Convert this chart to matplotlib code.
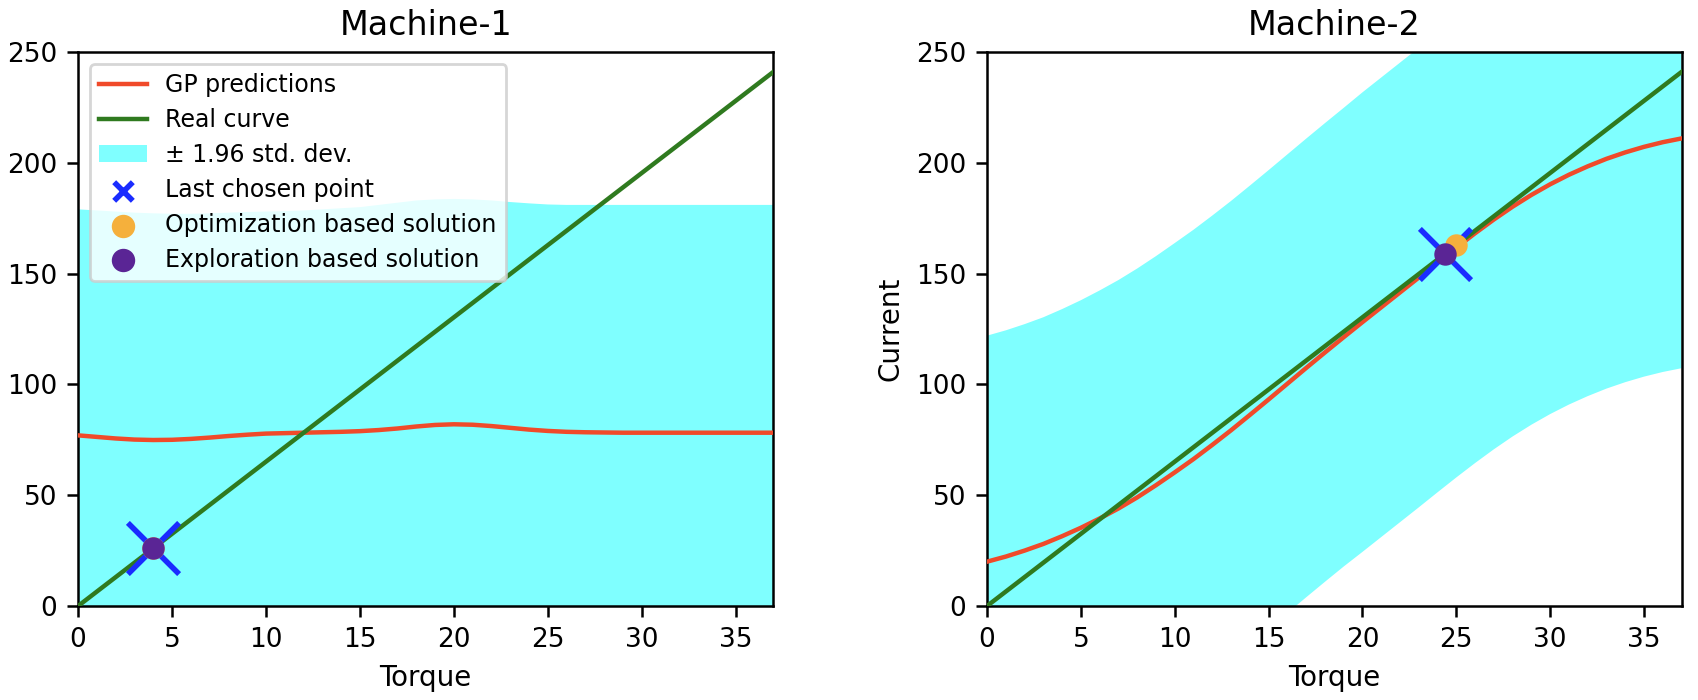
import numpy as np
import matplotlib
matplotlib.use("Agg")
import matplotlib.pyplot as plt

# ---------------- data ----------------
torque = list(range(0, 38))

# Machine-1 (one per torque unit)
m1_gp = [77, 76.3, 75.6, 75.1, 74.9, 75, 75.4, 76, 76.7, 77.3, 77.8, 78, 78.2, 78.4,
         78.6, 78.9, 79.4, 80.1, 81, 81.7, 82, 81.8, 81.2, 80.4, 79.6, 79, 78.6, 78.4,
         78.3, 78.2, 78.2, 78.2, 78.2, 78.2, 78.2, 78.2, 78.2, 78.2]
m1_upper = [179, 178.5, 178, 177.5, 177.2, 177, 177, 177.2, 177.5, 177.8, 178, 178.2,
            178.5, 179, 179.5, 180, 181, 182, 183, 183.5, 183.7, 183.5, 183, 182.3,
            181.7, 181.2, 181, 181, 181, 181, 181, 181, 181, 181, 181, 181, 181, 181]
m1_lower = [-25, -25.9, -26.8, -27.3, -27.4, -27, -26.2, -25.2, -24.1, -23.2, -22.4,
            -22.2, -22.1, -22.2, -22.3, -22.2, -22.2, -21.8, -21, -20.1, -19.7, -19.9,
            -20.6, -21.5, -22.5, -23.2, -23.8, -24.2, -24.4, -24.6, -24.6, -24.6,
            -24.6, -24.6, -24.6, -24.6, -24.6, -24.6]
real_x = [0, 37]
real_y = [0, 241]
m1_last = (4, 26)
m1_opt = (4, 26)
m1_expl = (4, 26)

# Machine-2
m2_gp = [20, 22.3, 25, 28, 31.5, 35.3, 39.5, 44, 49, 54.5, 60.3, 66.3, 72.7, 79.3,
         86.2, 93.2, 100.3, 107.4, 114.4, 121.3, 128.1, 134.8, 141.5, 148.2, 155,
         161.7, 168.2, 174.4, 180.2, 185.5, 190.3, 194.6, 198.4, 201.8, 204.7, 207.2,
         209.3, 211]
m2_upper = [122, 124.4, 127.2, 130.3, 134, 138, 142.4, 147.1, 152.3, 157.9, 163.8,
            169.8, 176.2, 182.8, 189.7, 196.7, 203.8, 210.9, 217.9, 224.8, 231.8,
            238.5, 245.2, 251.9, 258.7, 265.4, 271.9, 278.1, 283.9, 289.2, 294, 298.3,
            302.1, 305.5, 308.4, 310.9, 313, 314.7]
m2_lower = [-82, -79.8, -77.2, -74.3, -71, -67.4, -63.4, -59.1, -54.3, -48.9, -43.2,
            -37.2, -30.8, -24.2, -17.3, -10.3, -3.2, 3.9, 10.9, 17.8, 24.4, 31.1, 37.8,
            44.5, 51.3, 58, 64.5, 70.7, 76.5, 81.8, 86.6, 90.9, 94.7, 98.1, 101, 103.5,
            105.6, 107.3]
m2_last = (24.4, 159)
m2_opt = (25.0, 163)
m2_expl = (24.4, 159)

titles = ["Machine-1", "Machine-2"]
legend_labels = ["GP predictions", "Real curve", "\u00b1 1.96 std. dev.",
                 "Last chosen point", "Optimization based solution", "Exploration based solution"]

# ---------------- style ----------------
C_GP = "#f04a2a"
C_REAL = "#2f7a1f"
C_BAND = (0.0, 1.0, 1.0, 0.5)
C_X = "#1a2cff"
C_OPT = "#f5b03c"
C_EXPL = "#5a2595"

fig = plt.figure(figsize=(8.49, 3.5), dpi=200)
ax1 = fig.add_axes([0.046, 0.1343, 0.4094, 0.7914])
ax2 = fig.add_axes([0.5813, 0.1343, 0.4090, 0.7914])

datasets = [
    (ax1, m1_gp, m1_upper, m1_lower, m1_last, m1_opt, m1_expl),
    (ax2, m2_gp, m2_upper, m2_lower, m2_last, m2_opt, m2_expl),
]

for i, (ax, gp, up, lo, last, opt, expl) in enumerate(datasets):
    ax.plot(torque, gp, color=C_GP, lw=1.6, label=legend_labels[0], zorder=3)
    ax.plot(real_x, real_y, color=C_REAL, lw=1.6, label=legend_labels[1], zorder=4)
    ax.fill_between(torque, lo, up, facecolor=C_BAND, edgecolor="none",
                    label=legend_labels[2], zorder=1)
    ax.scatter([last[0]], [last[1]], marker="x", s=340, color=C_X, linewidths=2,
               label=legend_labels[3], zorder=5)
    ax.scatter([opt[0]], [opt[1]], marker="o", s=50, color=C_OPT,
               label=legend_labels[4], zorder=6)
    ax.scatter([expl[0]], [expl[1]], marker="o", s=50, color=C_EXPL,
               label=legend_labels[5], zorder=7)
    ax.set_xlim(0, 37)
    ax.set_ylim(0, 250)
    ax.set_xticks([0, 5, 10, 15, 20, 25, 30, 35])
    ax.set_yticks([0, 50, 100, 150, 200, 250])
    ax.tick_params(labelsize=9.5, width=0.9, length=4)
    for sp in ax.spines.values():
        sp.set_linewidth(0.9)
    ax.set_title(titles[i], fontsize=12)
    ax.set_xlabel("Torque", fontsize=10)

ax2.set_ylabel("Current", fontsize=10)

leg = ax1.legend(loc="upper left", fontsize=8.5, framealpha=0.8,
                 handlelength=2.0, borderpad=0.4, labelspacing=0.46)
hs = leg.legend_handles
hs[3].set_sizes([45])
hs[3].set_linewidths([2])
hs[4].set_sizes([55])
hs[5].set_sizes([55])

fig.savefig("out.png", dpi=200)
